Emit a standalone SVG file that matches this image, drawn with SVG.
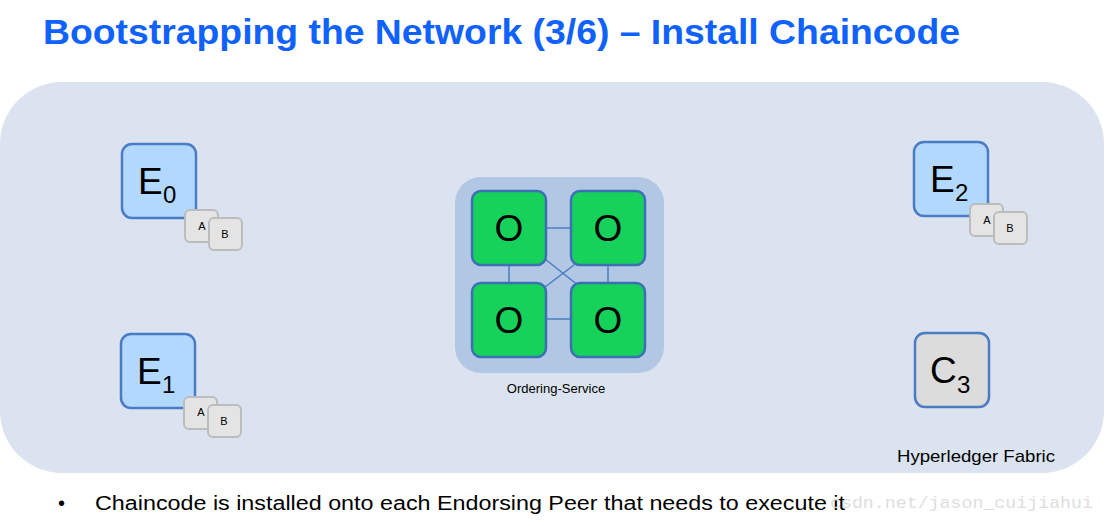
<svg xmlns="http://www.w3.org/2000/svg" width="1107" height="526" viewBox="0 0 1107 526">
<style>
.e{fill:#b3d8fd;stroke:#4a7cc3;stroke-width:2.5}
.c{fill:#dcdcdc;stroke:#4a7cc3;stroke-width:2.5}
.o{fill:#16d15a;stroke:#3d6fb5;stroke-width:2.5}
.sm{fill:#e4e4e4;stroke:#bcbcbc;stroke-width:2}
.big{font-family:"Liberation Sans",Arial,sans-serif;font-size:37px;fill:#000}
.sub{font-family:"Liberation Sans",Arial,sans-serif;font-size:24px;fill:#000}
.lt{font-family:"Liberation Sans",Arial,sans-serif;font-size:11px;fill:#000;text-anchor:middle}
.ln{stroke:#4a7cc3;stroke-width:1.5;fill:none}
</style>
<rect width="1107" height="526" fill="#ffffff"/>
<text x="43" y="44" font-family="'Liberation Sans',Arial,sans-serif" font-weight="bold" font-size="35" fill="#0f62fe" textLength="917" lengthAdjust="spacingAndGlyphs">Bootstrapping the Network (3/6) – Install Chaincode</text>
<rect id="fabric" x="0" y="82" width="1104" height="391" rx="62" fill="#dae3ef"/>
<g id="ordering-service">
<rect x="455" y="177" width="209" height="196" rx="26" fill="#b1c7e3"/>
<text x="556" y="393" font-family="'Liberation Sans',Arial,sans-serif" font-size="13" text-anchor="middle">Ordering-Service</text>
</g>
<g id="connectors">
<line class="ln" x1="546" y1="228" x2="571" y2="228"/>
<line class="ln" x1="546" y1="319" x2="571" y2="319"/>
<line class="ln" x1="509" y1="265" x2="509" y2="283"/>
<line class="ln" x1="608" y1="265" x2="608" y2="283"/>
<line class="ln" x1="545" y1="259" x2="579" y2="286"/>
<line class="ln" x1="545" y1="287" x2="578" y2="262"/>
</g>
<g id="O1"><rect class="o" x="472" y="191" width="74" height="74" rx="9"/><text class="big" x="509" y="241" text-anchor="middle">O</text></g>
<g id="O2"><rect class="o" x="571" y="191" width="74" height="74" rx="9"/><text class="big" x="608" y="241" text-anchor="middle">O</text></g>
<g id="O3"><rect class="o" x="472" y="283" width="74" height="74" rx="9"/><text class="big" x="509" y="333" text-anchor="middle">O</text></g>
<g id="O4"><rect class="o" x="571" y="283" width="74" height="74" rx="9"/><text class="big" x="608" y="333" text-anchor="middle">O</text></g>
<g id="E0">
<rect class="e" x="122" y="144" width="74" height="74" rx="10"/>
<text class="big" x="138" y="194">E</text><text class="sub" x="163" y="203">0</text>
<rect class="sm" x="185" y="210" width="33" height="32" rx="5"/><text class="lt" x="202" y="230">A</text>
<rect class="sm" x="209" y="218" width="33" height="32" rx="5"/><text class="lt" x="225" y="238">B</text>
</g>
<g id="E1">
<rect class="e" x="121" y="334" width="74" height="74" rx="10"/>
<text class="big" x="137" y="384">E</text><text class="sub" x="162" y="393">1</text>
<rect class="sm" x="184" y="397" width="33" height="32" rx="5"/><text class="lt" x="201" y="416">A</text>
<rect class="sm" x="208" y="405" width="33" height="32" rx="5"/><text class="lt" x="224" y="425">B</text>
</g>
<g id="E2">
<rect class="e" x="914" y="142" width="74" height="74" rx="10"/>
<text class="big" x="930" y="192">E</text><text class="sub" x="955" y="201">2</text>
<rect class="sm" x="970" y="204" width="33" height="32" rx="5"/><text class="lt" x="987" y="224">A</text>
<rect class="sm" x="994" y="212" width="33" height="32" rx="5"/><text class="lt" x="1010" y="232">B</text>
</g>
<g id="C3">
<rect class="c" x="915" y="333" width="74" height="74" rx="10"/>
<text class="big" x="930" y="383">C</text><text class="sub" x="957" y="393">3</text>
</g>
<text x="897" y="462" font-family="'Liberation Sans',Arial,sans-serif" font-size="17" textLength="158" lengthAdjust="spacingAndGlyphs">Hyperledger Fabric</text>
<text x="58" y="510" font-family="'Liberation Sans',Arial,sans-serif" font-size="20">•</text>
<text x="95" y="510" font-family="'Liberation Sans',Arial,sans-serif" font-size="20" textLength="750" lengthAdjust="spacingAndGlyphs">Chaincode is installed onto each Endorsing Peer that needs to execute it</text>
<text x="830" y="508" font-family="'Liberation Mono','DejaVu Sans Mono',monospace" font-size="17" fill="#dedede" textLength="263" lengthAdjust="spacingAndGlyphs">csdn.net/jason_cuijiahui</text>
</svg>
